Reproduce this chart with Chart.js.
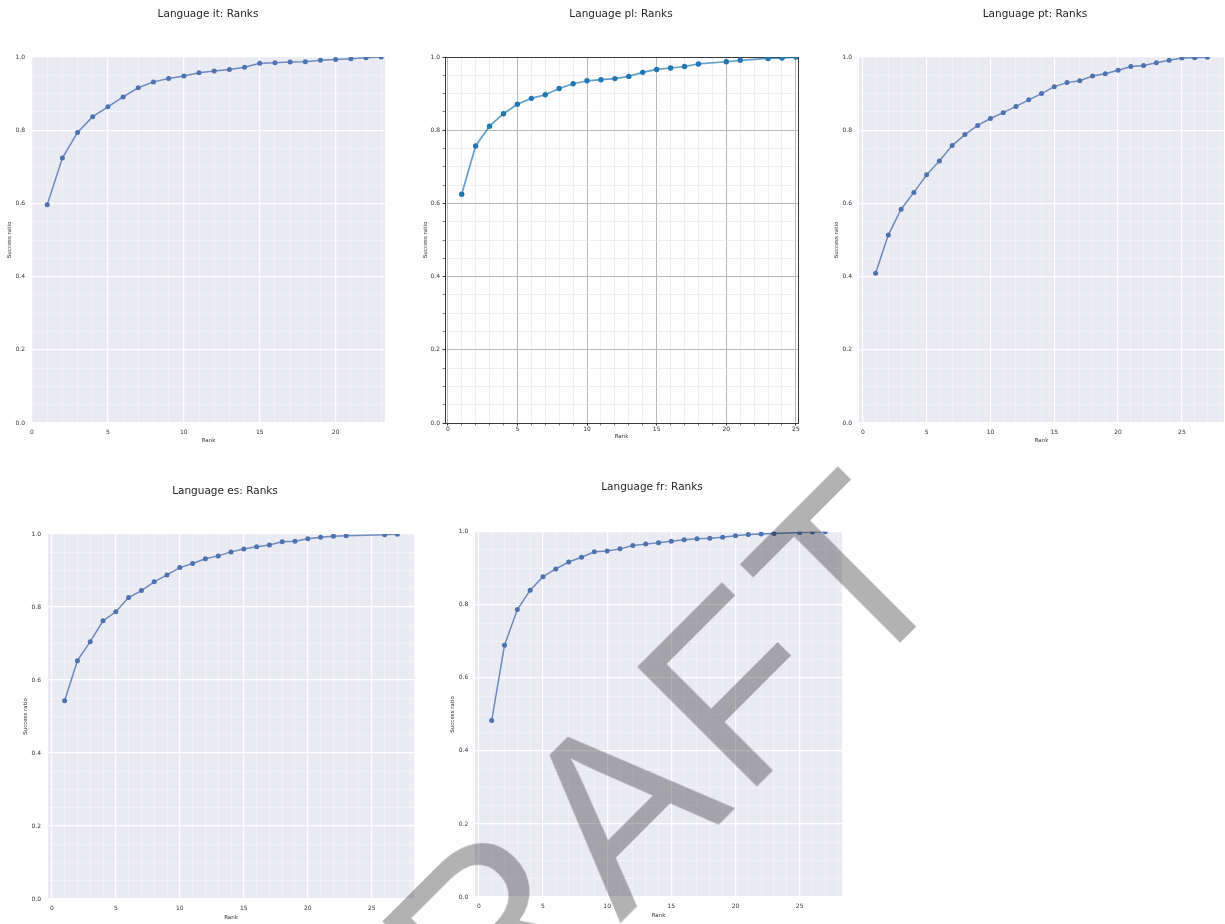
<!DOCTYPE html>
<html>
<head>
<meta charset="utf-8">
<script src="https://cdn.jsdelivr.net/npm/chart.js@4.4.1/dist/chart.umd.min.js"></script>
<style>
  html, body { margin: 0; padding: 0; background: #fff; width: 1225px; height: 924px; overflow: hidden; }
  .panel { position: absolute; }
  .panel canvas { display: block; }
  #draft {
    position: absolute; left: 209px; top: 1041px;
    font-family: "Liberation Sans", Arial, sans-serif; font-size: 245px; line-height: 245px;
    letter-spacing: 10px; color: rgba(0, 0, 0, 0.3); white-space: nowrap;
    transform-origin: 0 0; transform: rotate(-45deg); pointer-events: none;
  }
</style>
</head>
<body>
<div class="panel" id="panelIt"><canvas id="chartIt"></canvas></div>
<div class="panel" id="panelPl"><canvas id="chartPl"></canvas></div>
<div class="panel" id="panelPt"><canvas id="chartPt"></canvas></div>
<div class="panel" id="panelEs"><canvas id="chartEs"></canvas></div>
<div class="panel" id="panelFr"><canvas id="chartFr"></canvas></div>
<div id="draft">DRAFT</div>
<script>
// Success ratio per rank, one pair of arrays per language
const itRanks = [1, 2, 3, 4, 5, 6, 7, 8, 9, 10, 11, 12, 13, 14, 15, 16, 17, 18, 19, 20, 21, 22, 23];
const itRatio = [0.596, 0.724, 0.794, 0.837, 0.864, 0.891, 0.916, 0.932, 0.941, 0.948, 0.957, 0.962,
                 0.966, 0.972, 0.983, 0.984, 0.986, 0.987, 0.991, 0.993, 0.995, 0.998, 1.0];

const plRanks = [1, 2, 3, 4, 5, 6, 7, 8, 9, 10, 11, 12, 13, 14, 15, 16, 17, 18, 20, 21, 23, 24, 25];
const plRatio = [0.625, 0.757, 0.811, 0.845, 0.871, 0.887, 0.897, 0.914, 0.927, 0.935, 0.938, 0.941,
                 0.947, 0.958, 0.966, 0.970, 0.974, 0.981, 0.987, 0.991, 0.996, 0.997, 1.0];

const ptRanks = [1, 2, 3, 4, 5, 6, 7, 8, 9, 10, 11, 12, 13, 14, 15, 16, 17, 18, 19, 20, 21, 22, 23, 24, 25, 26, 27];
const ptRatio = [0.409, 0.514, 0.584, 0.630, 0.678, 0.716, 0.758, 0.788, 0.813, 0.832, 0.848, 0.865,
                 0.883, 0.900, 0.919, 0.930, 0.935, 0.948, 0.954, 0.964, 0.974, 0.977, 0.984, 0.991,
                 0.997, 0.998, 0.999];

const esRanks = [1, 2, 3, 4, 5, 6, 7, 8, 9, 10, 11, 12, 13, 14, 15, 16, 17, 18, 19, 20, 21, 22, 23, 26, 27];
const esRatio = [0.543, 0.653, 0.705, 0.762, 0.787, 0.826, 0.845, 0.869, 0.888, 0.908, 0.919, 0.932,
                 0.940, 0.951, 0.959, 0.965, 0.970, 0.979, 0.980, 0.987, 0.991, 0.994, 0.995, 0.998, 0.999];

const frRanks = [1, 2, 3, 4, 5, 6, 7, 8, 9, 10, 11, 12, 13, 14, 15, 16, 17, 18, 19, 20, 21, 22, 23, 25, 26, 27];
const frRatio = [0.483, 0.689, 0.787, 0.840, 0.877, 0.898, 0.917, 0.930, 0.945, 0.947, 0.953, 0.962,
                 0.966, 0.970, 0.974, 0.978, 0.981, 0.982, 0.985, 0.989, 0.992, 0.994, 0.995, 0.998,
                 0.999, 1.0];

// Tick positions (major ones get a label, minor ones only a grid line)
const xMajorTicks = [0, 5, 10, 15, 20, 25];
const xMinorTicks = [0, 1, 2, 3, 4, 5, 6, 7, 8, 9, 10, 11, 12, 13, 14, 15, 16, 17, 18, 19, 20,
                     21, 22, 23, 24, 25, 26, 27, 28];
const yMajorTicks = [0, 0.2, 0.4, 0.6, 0.8, 1.0];
const yMinorTicks = [0, 0.05, 0.1, 0.15, 0.2, 0.25, 0.3, 0.35, 0.4, 0.45, 0.5, 0.55, 0.6, 0.65,
                     0.7, 0.75, 0.8, 0.85, 0.9, 0.95, 1.0];

const isMajor = (list, v) => list.some(m => Math.abs(m - v) < 1e-6);

// Two looks: seaborn darkgrid panels and one classic matplotlib panel (pl)
const looks = {
    seaborn: {
        bg: '#eaeaf2', frame: null,
        majorGrid: '#ffffff', minorGrid: 'rgba(255,255,255,0.55)', majorWidth: 1.2, minorWidth: 0.6,
        line: 'rgba(76,114,176,0.8)', point: '#4c72b0', lineWidth: 1.5, radius: 2.5,
        drawTicks: false, tickLength: 0
    },
    classic: {
        bg: '#ffffff', frame: '#3a3a3a',
        majorGrid: '#b8b8b8', minorGrid: '#e4e4e4', majorWidth: 1, minorWidth: 0.6,
        line: 'rgba(31,119,180,0.7)', point: '#1f77b4', lineWidth: 1.7, radius: 2.7,
        drawTicks: true, tickLength: 2.5
    }
};

const panelPlugin = {
    id: 'panelPlugin',
    beforeDraw(chart, args, opts) {
        const {ctx, chartArea: a} = chart;
        ctx.save();
        ctx.fillStyle = opts.bg;
        ctx.fillRect(a.left, a.top, a.right - a.left, a.bottom - a.top);
        ctx.restore();
    },
    beforeDatasetsDraw(chart, args, opts) {
        if (!opts.frame) return;
        const {ctx, chartArea: a} = chart;
        ctx.save();
        ctx.strokeStyle = opts.frame;
        ctx.lineWidth = 1;
        ctx.strokeRect(Math.round(a.left) + 0.5, Math.round(a.top) + 0.5,
                       Math.round(a.right - a.left), Math.round(a.bottom - a.top));
        ctx.restore();
    }
};

const panels = [
    {panel: 'panelIt', canvas: 'chartIt', title: 'Language it: Ranks', ranks: itRanks, values: itRatio, look: 'seaborn',
     xMin: 0, xMax: 23.25, left: 6, top: 0, width: 404, height: 445, yW: 26, rW: 25,
     titleTop: 7.7, titleBottom: 36.7, xH: 22, xTickPad: 5.4, xTitlePad: 1, yTickPad: 7},
    {panel: 'panelPl', canvas: 'chartPl', title: 'Language pl: Ranks', ranks: plRanks, values: plRatio, look: 'classic',
     xMin: -0.2, xMax: 25.15, left: 422, top: 0, width: 398, height: 445, yW: 23, rW: 22,
     titleTop: 7.7, titleBottom: 36.7, xH: 22, xTickPad: 0.5, xTitlePad: 5, yTickPad: 2.5},
    {panel: 'panelPt', canvas: 'chartPt', title: 'Language pt: Ranks', ranks: ptRanks, values: ptRatio, look: 'seaborn',
     xMin: -0.3, xMax: 28.3, left: 833, top: 0, width: 404, height: 445, yW: 26, rW: 13,
     titleTop: 7.7, titleBottom: 36.7, xH: 22, xTickPad: 5.4, xTitlePad: 1, yTickPad: 7},
    {panel: 'panelEs', canvas: 'chartEs', title: 'Language es: Ranks', ranks: esRanks, values: esRatio, look: 'seaborn',
     xMin: -0.3, xMax: 28.3, left: 22, top: 470, width: 406, height: 453, yW: 26, rW: 14,
     titleTop: 14.7, titleBottom: 36.7, xH: 24, xTickPad: 6.1, xTitlePad: 2.4, yTickPad: 7},
    {panel: 'panelFr', canvas: 'chartFr', title: 'Language fr: Ranks', ranks: frRanks, values: frRatio, look: 'seaborn',
     xMin: -0.3, xMax: 28.3, left: 449, top: 470, width: 406, height: 451, yW: 26, rW: 13,
     titleTop: 11.4, titleBottom: 37.7, xH: 24, xTickPad: 5.7, xTitlePad: 2.4, yTickPad: 6.7}
];

const textColor = '#333333';
const tickFont = {family: 'DejaVu Sans', size: 6};
const axisTitleFont = {family: 'DejaVu Sans', size: 5.5};

panels.forEach(p => {
    const look = looks[p.look];
    const box = document.getElementById(p.panel);
    box.style.left = p.left + 'px';
    box.style.top = p.top + 'px';
    const canvas = document.getElementById(p.canvas);
    canvas.width = p.width;
    canvas.height = p.height;
    canvas.style.width = p.width + 'px';
    canvas.style.height = p.height + 'px';

    const gridFor = majors => ({
        drawTicks: look.drawTicks,
        tickLength: look.tickLength,
        tickColor: '#333333',
        color: ctx => isMajor(majors, ctx.tick.value) ? look.majorGrid : look.minorGrid,
        lineWidth: ctx => isMajor(majors, ctx.tick.value) ? look.majorWidth : look.minorWidth
    });

    new Chart(canvas.getContext('2d'), {
        type: 'line',
        data: {
            datasets: [{
                data: p.ranks.map((r, i) => ({x: r, y: p.values[i]})),
                borderColor: look.line,
                borderWidth: look.lineWidth,
                pointBackgroundColor: look.point,
                pointBorderColor: look.point,
                pointBorderWidth: 0,
                pointRadius: look.radius,
                tension: 0,
                fill: false
            }]
        },
        plugins: [panelPlugin],
        options: {
            responsive: false,
            animation: false,
            events: [],
            layout: {padding: 0, autoPadding: false},
            plugins: {
                legend: {display: false},
                tooltip: {enabled: false},
                title: {
                    display: true,
                    text: p.title,
                    color: '#262626',
                    font: {family: 'DejaVu Sans', size: 10.5, weight: 'normal'},
                    padding: {top: p.titleTop, bottom: p.titleBottom}
                },
                panelPlugin: {bg: look.bg, frame: look.frame}
            },
            scales: {
                x: {
                    type: 'linear',
                    min: p.xMin,
                    max: p.xMax,
                    afterBuildTicks: axis => {
                        axis.ticks = xMinorTicks.filter(v => v >= p.xMin && v <= p.xMax).map(v => ({value: v}));
                    },
                    afterFit: axis => { axis.height = p.xH; },
                    grid: gridFor(xMajorTicks),
                    border: {display: false},
                    ticks: {
                        autoSkip: false,
                        maxRotation: 0,
                        padding: p.xTickPad,
                        color: textColor,
                        font: tickFont,
                        callback: v => isMajor(xMajorTicks, v) ? String(Math.round(v)) : ''
                    },
                    title: {display: true, text: 'Rank', color: textColor, font: axisTitleFont,
                            padding: {top: 0, bottom: p.xTitlePad}}
                },
                y: {
                    type: 'linear',
                    position: 'left',
                    min: 0,
                    max: 1,
                    afterBuildTicks: axis => {
                        axis.ticks = yMinorTicks.map(v => ({value: v}));
                    },
                    afterFit: axis => { axis.width = p.yW; },
                    grid: gridFor(yMajorTicks),
                    border: {display: false},
                    ticks: {
                        autoSkip: false,
                        padding: p.yTickPad,
                        color: textColor,
                        font: tickFont,
                        callback: v => isMajor(yMajorTicks, v) ? v.toFixed(1) : ''
                    },
                    title: {display: true, text: 'Success ratio', color: textColor, font: axisTitleFont,
                            padding: {top: 0, bottom: 0}}
                },
                // empty right-hand box so the title sits where the reference puts it
                yRight: {
                    type: 'linear',
                    position: 'right',
                    afterFit: axis => { axis.width = p.rW; },
                    grid: {display: false, drawTicks: false},
                    border: {display: false},
                    ticks: {display: false}
                }
            }
        }
    });
});
</script>
</body>
</html>
